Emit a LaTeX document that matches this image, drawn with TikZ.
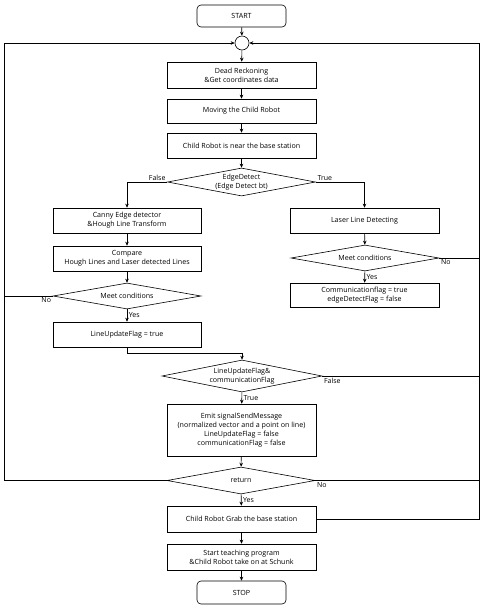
\documentclass[tikz,border=0pt]{standalone}
\usepackage{fontspec}
\setmainfont{Open Sans}
\usetikzlibrary{shapes.geometric,arrows.meta}
\tikzset{
  base/.style = {draw, line width=0.6pt, align=center, inner sep=1pt,
                 font=\fontsize{7.1}{9}\selectfont},
  term/.style = {base, rectangle, rounded corners=4pt, minimum width=89pt, minimum height=22pt},
  proc/.style = {base, rectangle, minimum width=149pt, minimum height=25pt},
  dec/.style  = {base, diamond, aspect=5.3, inner sep=-3pt, minimum width=148pt, minimum height=27pt},
  jn/.style   = {draw, line width=0.6pt, circle, minimum size=14pt, inner sep=0pt},
  lbl/.style  = {inner sep=1.5pt, font=\fontsize{7}{8}\selectfont},
  arr/.style  = {line width=0.6pt, -{Stealth[length=4pt,width=3.5pt]}},
  ln/.style   = {line width=0.6pt}
}
\begin{document}
\begin{tikzpicture}[x=1pt, y=-1pt]
                \useasboundingbox (0,0) rectangle (488,611);
                \node[term] (start) at (241.5,16) {START};
                \node[jn] (circ) at (242,43) {};
                \node[proc, minimum height=26pt] (dr) at (241.5,75) {Dead Reckoning\\\&Get coordinates data};
                \node[proc, minimum height=24pt] (move) at (241.5,111) {Moving the Child Robot};
                \node[proc] (near) at (241.5,145.5) {Child Robot is near the base station};
                \node[dec, minimum height=28pt] (edge) at (241.5,182) {EdgeDetect\\(Edge Detect bt)};
                \node[proc, minimum width=148pt] (canny) at (127,220.5) {Canny Edge detector\\\&Hough Line Transform};
                \node[proc, minimum width=148pt] (cmp) at (127,258.5) {Compare\\Hough Lines and Laser detected Lines};
                \node[dec, minimum height=26pt] (meetL) at (127,296) {Meet conditions};
                \node[proc, minimum width=148pt] (luf) at (127,334.5) {LineUpdateFlag = true};
                \node[proc] (laser) at (364.5,220.5) {Laser Line Detecting};
                \node[dec, minimum height=26pt] (meetR) at (365,258) {Meet conditions};
                \node[proc, minimum height=24pt] (comm) at (364.5,295) {Communicationflag = true\\edgeDetectFlag = false};
                \node[dec, minimum width=160pt, minimum height=32pt] (both) at (242,376) {LineUpdateFlag\&\\communicationFlag};
                \node[proc, minimum height=52pt] (emit) at (241.5,430) {Emit signalSendMessage\\(normalized vector and a point on line)\\LineUpdateFlag = false\\communicationFlag = false};
                \node[dec] (ret) at (241,480.5) {return};
                \node[proc, minimum height=26pt] (grab) at (241.5,519) {Child Robot Grab the base station};
                \node[proc, minimum height=26pt] (teach) at (241.5,557) {Start teaching program\\\&Child Robot take on at Schunk};
                \node[term, minimum height=23pt] (stop) at (241.5,592.5) {STOP};
                \coordinate (lft) at (4,43);
                \coordinate (rgt) at (479,43);
                \draw[arr] (start) -- (circ);
                \draw[arr] (circ) -- (dr);
                \draw[arr] (dr) -- (move);
                \draw[arr] (move) -- (near);
                \draw[arr] (near) -- (edge);
                \draw[arr] (edge.west) -| (canny);
                \node[lbl, anchor=south east] at (edge.west) {False};
                \draw[arr] (edge.east) -| (laser);
                \node[lbl, anchor=south west] at (edge.east) {True};
                \draw[arr] (canny) -- (cmp);
                \draw[arr] (cmp) -- (meetL);
                \draw[ln] (meetL.west) -- (lft |- meetL.west);
                \node[lbl, anchor=north east] at (meetL.west) {No};
                \draw[arr] (meetL) -- node[lbl, right] {Yes} (luf);
                \draw[arr] (luf.south) -- ++(0,6) -| (both.north);
                \draw[arr] (laser) -- (meetR);
                \draw[ln] (meetR.east) -- (rgt |- meetR.east);
                \node[lbl, anchor=north west] at (meetR.east) {No};
                \draw[arr] (meetR) -- node[lbl, right] {Yes} (comm);
                \draw[ln] (both.east) -- (rgt |- both.east);
                \node[lbl, anchor=north west] at (both.east) {False};
                \draw[arr] (both) -- node[lbl, right] {True} (emit);
                \draw[arr] (emit) -- (ret);
                \draw[arr] (ret.west) -| (lft) -- (circ.west);
                \draw[ln] (ret.east) -- (rgt |- ret.east);
                \node[lbl, anchor=north west] at (ret.east) {No};
                \draw[arr] (ret) -- node[lbl, right] {Yes} (grab);
                \draw[arr] (grab.east) -| (rgt) -- (circ.east);
                \draw[arr] (grab) -- (teach);
                \draw[arr] (teach) -- (stop);
            \end{tikzpicture}
\end{document}
